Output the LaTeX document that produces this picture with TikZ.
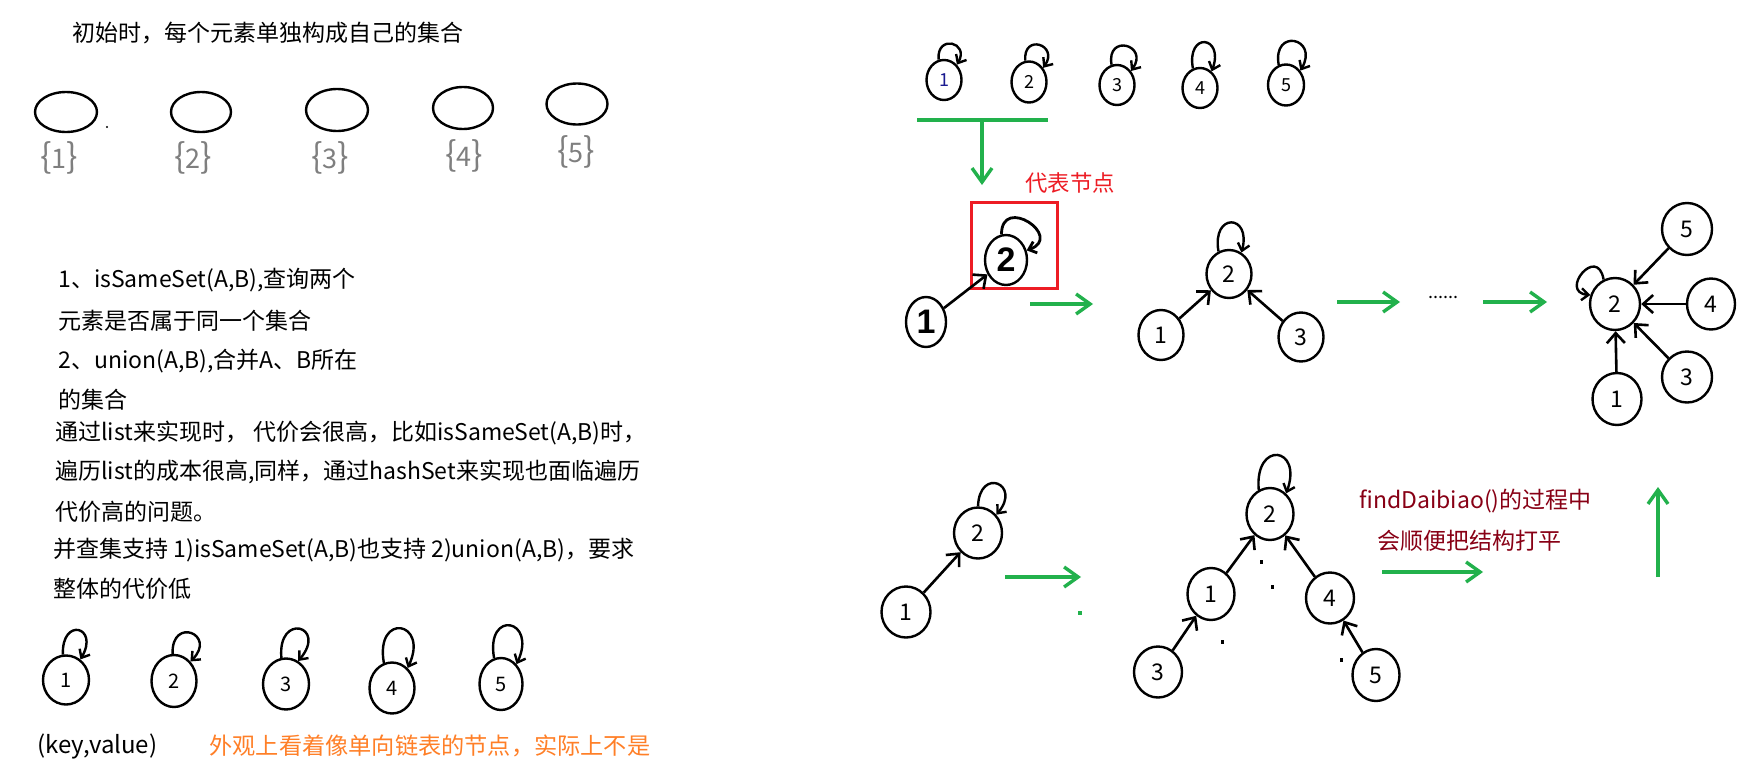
\documentclass[tikz,border=0pt]{standalone}
\usepackage{fontspec}
\setmainfont{Noto Sans CJK SC}
\newfontfamily\boldlat{Liberation Sans}
\usetikzlibrary{arrows.meta,shapes.geometric}
\definecolor{pgreen}{HTML}{22B14C}
\definecolor{pred}{HTML}{ED1C24}
\definecolor{pdark}{HTML}{880015}
\definecolor{porange}{HTML}{FF7F27}
\definecolor{pgray}{HTML}{7F7F7F}
\definecolor{pnavy}{HTML}{1A1A90}
\newcommand\grbrace[1]{{\fontsize{17}{17}\selectfont\{}{\fontsize{13.5}{13.5}\selectfont #1}{\fontsize{17}{17}\selectfont\}}}
\begin{document}
\begin{tikzpicture}[x=0.5pt,y=-0.5pt,
  txt/.style={inner sep=0pt, anchor=west, font=\fontsize{11.5}{13}\selectfont},
  ov/.style={ellipse, draw, line width=1.2pt, inner sep=0pt},
  sm/.style={ov, font=\fontsize{9}{9}\selectfont},
  md/.style={ov, font=\fontsize{10}{10}\selectfont},
  bg/.style={ov, font=\fontsize{11.5}{11.5}\selectfont},
  gl/.style={inner sep=0pt, text=pgray},
  arr/.style={line width=1.3pt, -{Straight Barb[length=5pt,width=9pt]}},
  lp/.style={line width=1.2pt, -{Straight Barb[length=3.5pt,width=6pt]}},
  garr/.style={pgreen, line width=1.7pt, -{Straight Barb[length=7pt,width=10pt]}}]
\fill[white] (0,0) rectangle (1754,776);
\useasboundingbox (0,0) rectangle (1754,776);

% ---------- header and initial sets ----------
\node[txt] (hdr) at (72,33) {初始时，每个元素单独构成自己的集合};
\node[ov, minimum width=31pt, minimum height=20pt] (e1) at (66,112) {};
\node[ov, minimum width=30pt, minimum height=20pt] (e2) at (201,112) {};
\node[ov, minimum width=31pt, minimum height=21pt] (e3) at (337,110) {};
\node[ov, minimum width=30pt, minimum height=21pt] (e4) at (463,108) {};
\node[ov, minimum width=30.5pt, minimum height=20.5pt] (e5) at (577,104) {};
\fill (107,127) circle (0.6pt);
\node[gl] (g1) at (59,158) {\grbrace{1}};
\node[gl] (g2) at (193,158) {\grbrace{2}};
\node[gl] (g3) at (330,158) {\grbrace{3}};
\node[gl] (g4) at (464,156) {\grbrace{4}};
\node[gl] (g5) at (576,152) {\grbrace{5}};

% ---------- text block ----------
\node[txt] (l1) at (58,280) {1、isSameSet(A,B),查询两个};
\node[txt] (l2) at (58,321) {元素是否属于同一个集合};
\node[txt] (l3) at (58,361) {2、union(A,B),合并A、B所在};
\node[txt] (l4) at (58,400) {的集合};
\node[txt] (l5) at (55,433) {通过list来实现时， 代价会很高，比如isSameSet(A,B)时，};
\node[txt] (l6) at (55,472) {遍历list的成本很高,同样，通过hashSet来实现也面临遍历};
\node[txt] (l7) at (55,512) {代价高的问题。};
\node[txt] (l8) at (53,550) {并查集支持 1)isSameSet(A,B)也支持 2)union(A,B)，要求};
\node[txt] (l9) at (53,589) {整体的代价低};

% ---------- bottom-left row ----------
\node[md, minimum width=23pt, minimum height=24.5pt] (b1) at (66,680) {1};
\node[md, minimum width=22.5pt, minimum height=26pt] (b2) at (174,681) {2};
\node[md, minimum width=23pt, minimum height=25.5pt] (b3) at (286,684) {3};
\node[md, minimum width=22.5pt, minimum height=25.5pt] (b4) at (392,688) {4};
\node[md, minimum width=21.5pt, minimum height=26pt] (b5) at (501,684) {5};
\draw[lp] (b1.97) .. controls +(92:19pt) and +(60:19pt) .. (b1.55);
\draw[lp] (b2.93) .. controls +(92:19pt) and +(45:19pt) .. (b2.50);
\draw[lp] (b3.100) .. controls +(95:23pt) and +(50:23pt) .. (b3.62);
\draw[lp] (b4.108) .. controls +(100:26pt) and +(65:26pt) .. (b4.52);
\draw[lp] (b5.105) .. controls +(100:25pt) and +(65:25pt) .. (b5.52);
\node[txt, font=\fontsize{12}{13}\selectfont] (kv) at (37,746) {(key,value)};
\node[txt, text=porange, font=\fontsize{11.6}{12}\selectfont] (note) at (209,746) {外观上看着像单向链表的节点，实际上不是};

% ---------- top-right small row ----------
\node[sm, minimum width=17.5pt, minimum height=20pt, text=pnavy] (t1) at (944,80) {1};
\node[sm, minimum width=17.5pt, minimum height=20.5pt] (t2) at (1029,82) {2};
\node[sm, minimum width=17.5pt, minimum height=20pt] (t3) at (1117,85) {3};
\node[sm, minimum width=17.5pt, minimum height=20pt] (t4) at (1200,88) {4};
\node[sm, minimum width=18pt, minimum height=20.5pt] (t5) at (1286,85) {5};
\draw[lp] (t1.105) .. controls +(95:13pt) and +(60:13pt) .. (t1.50);
\draw[lp] (t2.100) .. controls +(95:14pt) and +(55:14pt) .. (t2.45);
\draw[lp] (t3.105) .. controls +(100:16pt) and +(55:16pt) .. (t3.45);
\draw[lp] (t4.110) .. controls +(100:19pt) and +(70:19pt) .. (t4.55);
\draw[lp] (t5.110) .. controls +(100:19pt) and +(60:19pt) .. (t5.45);

% green T arrow
\coordinate (gL) at (917,120);
\coordinate (gR) at (1048,120);
\coordinate (gM) at (982,120);
\coordinate (gB) at (982,185);
\draw[pgreen, line width=1.7pt] (gL) -- (gR);
\draw[garr] (gM) -- (gB);

\node[text=pred, font=\fontsize{11.2}{12}\selectfont, inner sep=0pt] (rep) at (1070,183) {代表节点};
\node[draw=pred, line width=1.5pt, minimum width=43pt, minimum height=43pt, inner sep=0pt] (rbox) at (1014,245) {};
\node[ov, minimum width=21pt, minimum height=25pt, font=\boldlat\bfseries\fontsize{17}{17}\selectfont] (A2) at (1006,260) {2};
\node[ov, minimum width=20pt, minimum height=25pt, font=\boldlat\bfseries\fontsize{17}{17}\selectfont] (A1) at (926,322) {1};
\draw[lp, line width=1.4pt] (A2.100) .. controls +(90:20pt) and +(20:20pt) .. (A2.25);
\draw[arr] (A1) -- (A2);
\coordinate (ga1) at (1030,304);
\coordinate (ga2) at (1093,304);
\draw[garr] (ga1) -- (ga2);

% second graph
\node[bg, minimum width=22.5pt, minimum height=24pt] (G2) at (1229,274) {2};
\node[bg, minimum width=22.5pt, minimum height=25pt] (G1) at (1161,335) {1};
\node[bg, minimum width=22.5pt, minimum height=24.5pt] (G3) at (1301,337) {3};
\draw[lp] (G2.115) .. controls +(100:20pt) and +(75:20pt) .. (G2.60);
\draw[arr] (G1) -- (G2);
\draw[arr] (G3) -- (G2);

\coordinate (gb1) at (1337,302);
\coordinate (gb2) at (1400,302);
\draw[garr] (gb1) -- (gb2);
\node[inner sep=0pt, font=\fontsize{9}{9}\selectfont] (dots) at (1443,297) {......};
\coordinate (gc1) at (1483,302);
\coordinate (gc2) at (1547,302);
\draw[garr] (gc1) -- (gc2);

% star
\node[bg, minimum width=25pt, minimum height=26pt] (S2) at (1615,304) {2};
\node[bg, minimum width=25pt, minimum height=26pt] (S5) at (1687,229) {5};
\node[bg, minimum width=24pt, minimum height=25.5pt] (S4) at (1711,304) {4};
\node[bg, minimum width=25pt, minimum height=25.5pt] (S3) at (1687,377) {3};
\node[bg, minimum width=24.5pt, minimum height=26pt] (S1) at (1617,399) {1};
\draw[lp] (S2.115) .. controls +(100:18pt) and +(175:16pt) .. (S2.160);
\draw[arr] (S5) -- (S2);
\draw[arr] (S4) -- (S2);
\draw[arr] (S3) -- (S2);
\draw[arr] (S1) -- (S2);

% bottom-right graph 1
\node[bg, minimum width=24pt, minimum height=25.5pt] (H2) at (978,533) {2};
\node[bg, minimum width=24.5pt, minimum height=25.5pt] (H1) at (906,612) {1};
\draw[lp] (H2.90) .. controls +(88:20pt) and +(50:20pt) .. (H2.45);
\draw[arr] (H1) -- (H2);
\coordinate (gd1) at (1005,577);
\coordinate (gd2) at (1081,577);
\draw[garr] (gd1) -- (gd2);
\fill[pgreen] (1078,611) rectangle (1082,615);

% tree
\node[bg, minimum width=23.5pt, minimum height=26pt] (T2) at (1270,514) {2};
\node[bg, minimum width=23.5pt, minimum height=26pt] (T1) at (1211,594) {1};
\node[bg, minimum width=24pt, minimum height=25.5pt] (T4) at (1330,598) {4};
\node[bg, minimum width=24pt, minimum height=25.5pt] (T3) at (1158,672) {3};
\node[bg, minimum width=23.5pt, minimum height=26pt] (T5) at (1376,675) {5};
\draw[lp] (T2.115) .. controls +(95:25pt) and +(70:25pt) .. (T2.52);
\draw[arr] (T1) -- (T2);
\draw[arr] (T4) -- (T2);
\draw[arr] (T3) -- (T1);
\draw[arr] (T5) -- (T4);
\fill (1260,560) rectangle (1263,564);
\fill (1271,585) rectangle (1274,589);
\fill (1221,640) rectangle (1224,644);
\fill (1340,658) rectangle (1343,662);

% findDaibiao
\node[txt, text=pdark, font=\fontsize{11.5}{12}\selectfont] (fd1) at (1359,501) {findDaibiao()的过程中};
\node[txt, text=pdark, font=\fontsize{11.5}{12}\selectfont] (fd2) at (1377,541) {会顺便把结构打平};
\coordinate (ge1) at (1382,572);
\coordinate (ge2) at (1483,572);
\draw[garr] (ge1) -- (ge2);
\coordinate (gf1) at (1658,577);
\coordinate (gf2) at (1658,487);
\draw[garr] (gf1) -- (gf2);
\end{tikzpicture}
\end{document}
